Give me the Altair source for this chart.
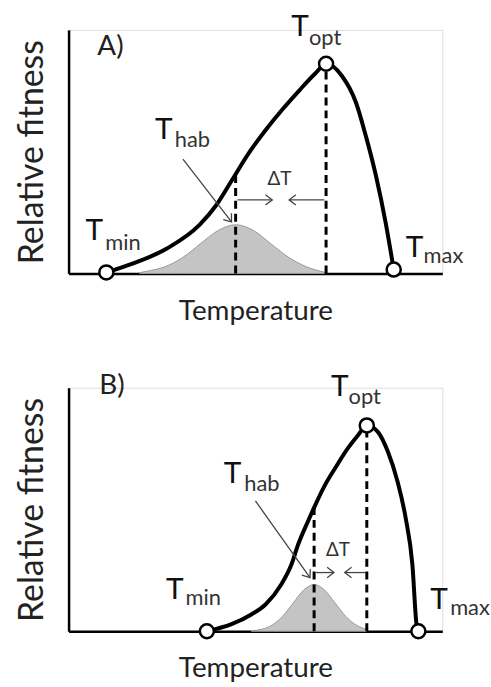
import altair as alt
import pandas as pd

# ---------------- Panel A values (temperature 0-100, relative fitness 0-100) ----------------
a_curve_x = [10.1, 17.3, 26.3, 35.1, 39.6, 43.9, 48.4, 52.9, 57.2, 61.7, 66.2, 68.9, 73.1, 76.9, 79.5, 82.2, 84.8, 87.0]
a_curve_y = [0.4, 4.1, 10.2, 20.0, 28.2, 38.8, 49.8, 59.2, 67.3, 75.1, 82.4, 86.1, 81.2, 70.2, 56.7, 40.4, 21.2, 1.6]
a_hab_x = [19.0, 21.0, 25.7, 30.5, 35.2, 40.0, 44.7, 49.5, 54.2, 59.0, 63.7, 68.5]
a_hab_y = [0.3, 0.9, 2.7, 6.5, 12.1, 17.6, 20.0, 17.6, 12.1, 6.5, 2.7, 0.5]
a_dash_x = [44.7, 68.9]
a_dash_top = [40.4, 86.1]
a_pts_x = [10.1, 68.9, 87.0]
a_pts_y = [0.4, 86.1, 1.6]
a_T_x = [4.5, 23.1, 59.6, 90.2]
a_T_y = [13.9, 55.1, 97.6, 6.9]
a_sub_x = [9.8, 28.4, 64.3, 95.0]
a_sub_y = [9.8, 51.8, 93.9, 4.1]
a_seg_x = [45.2, 68.4, 30.6]
a_seg_y = [30.2, 30.2, 46.9]
a_seg_x2 = [54.5, 59.0, 43.6]
a_seg_y2 = [30.2, 30.2, 21.2]
a_head_angle = [0, 180, 52]
a_dT = [56.4, 36.3]
a_letter = [7.7, 89.8]

# ---------------- Panel B values ----------------
b_curve_x = [37.0, 43.6, 48.9, 52.7, 56.9, 59.6, 61.4, 64.1, 66.0, 68.6, 71.3, 74.7, 77.4, 79.8, 82.7, 85.4, 88.0, 90.2, 92.0, 93.1, 93.6]
b_curve_y = [0.0, 2.9, 6.9, 11.0, 19.2, 27.3, 35.5, 45.3, 51.8, 60.0, 66.9, 75.1, 80.4, 84.5, 82.0, 73.9, 61.6, 46.5, 27.3, 2.9, 0.0]
b_hab_x = [48.9, 51.7, 54.5, 57.3, 60.1, 62.9, 65.7, 68.5, 71.3, 74.1, 76.9, 79.7]
b_hab_y = [0.2, 0.8, 2.6, 6.2, 11.6, 16.9, 19.2, 16.9, 11.6, 6.2, 2.6, 0.8]
b_dash_x = [65.7, 79.8]
b_dash_top = [50.6, 84.5]
b_pts_x = [37.0, 79.8, 93.6]
b_pts_y = [0.0, 84.5, 0.0]
b_T_x = [26.1, 41.5, 70.2, 96.8]
b_T_y = [13.1, 60.8, 96.7, 9.0]
b_sub_x = [31.3, 47.0, 74.9, 102.1]
b_sub_y = [10.6, 57.6, 93.5, 6.5]
b_seg_x = [66.2, 79.5, 50.0]
b_seg_y = [24.1, 24.1, 53.5]
b_seg_x2 = [71.0, 73.9, 64.6]
b_seg_y2 = [24.1, 24.1, 22.0]
b_head_angle = [0, 180, 54.5]
b_dT = [72.1, 31.0]
b_letter = [8.2, 97.6]

subs = ["min", "hab", "opt", "max"]
panel_letters = ["A)", "B)"]
x_title = "Temperature"
y_title = "Relative fitness"

FONT = "Lato"
W, H = 376, 245

xs = alt.Scale(domain=[0, 100], nice=False, zero=False)
ys = alt.Scale(domain=[0, 100], nice=False, zero=False)
x_axis = alt.Axis(title=x_title, ticks=False, labels=False, grid=False, domainColor="black",
                  domainWidth=2.5, titleFont=FONT, titleFontSize=28, titleFontWeight="normal",
                  titleColor="#222", titlePadding=24)
y_axis = alt.Axis(title=y_title, ticks=False, labels=False, grid=False, domainColor="black",
                  domainWidth=2.5, titleFont=FONT, titleFontSize=34, titleFontWeight="normal",
                  titleColor="#222", titlePadding=19)


def X(f):
    return alt.X(f, type="quantitative", scale=xs, axis=x_axis)


def Y(f):
    return alt.Y(f, type="quantitative", scale=ys, axis=y_axis)


def panel(cx, cy, hx, hy, dx, dtop, px, py, tx, ty, sx, sy, gx, gy, gx2, gy2, hang, dT, letter, lab):
    curve = pd.DataFrame({"x": cx, "y": cy})
    hab = pd.DataFrame({"x": hx, "y": hy})
    dash = pd.DataFrame({"x": dx, "y": [0] * len(dx), "y2": dtop})
    pts = pd.DataFrame({"x": px, "y": py})
    tl = pd.DataFrame({"x": tx, "y": ty, "t": ["T"] * len(tx)})
    sl = pd.DataFrame({"x": sx, "y": sy, "t": subs})
    seg = pd.DataFrame({"x": gx, "y": gy, "x2": gx2, "y2": gy2, "a": hang})
    dtd = pd.DataFrame({"x": [dT[0]], "y": [dT[1]], "t": ["ΔT"]})
    lt = pd.DataFrame({"x": [letter[0]], "y": [letter[1]], "t": [lab]})

    area = alt.Chart(hab).mark_area(interpolate="monotone", fill="#c4c4c4", stroke="#999999",
                                    strokeWidth=1).encode(x=X("x"), y=Y("y"))
    rules = alt.Chart(dash).mark_rule(color="black", strokeWidth=3, strokeDash=[8, 5]).encode(
        x=X("x"), y=Y("y"), y2="y2")
    line = alt.Chart(curve).mark_line(interpolate="monotone", color="black", strokeWidth=4).encode(
        x=X("x"), y=Y("y"))
    arrows = alt.Chart(seg).mark_rule(color="#444", strokeWidth=1.3).encode(
        x=X("x"), y=Y("y"), x2="x2", y2="y2")
    heads = alt.Chart(seg).mark_point(shape="M -1.3 -1 L 0 0 L -1.3 1", filled=False, color="#444",
                                      strokeWidth=1.3, size=110, opacity=1).encode(
        x=X("x2"), y=Y("y2"), angle=alt.Angle("a:Q", scale=None))
    circles = alt.Chart(pts).mark_point(shape="circle", filled=True, fill="white", stroke="black",
                                        strokeWidth=2.5, size=200, opacity=1).encode(x=X("x"), y=Y("y"))
    tT = alt.Chart(tl).mark_text(font=FONT, fontSize=30, color="#111", align="left",
                                 baseline="alphabetic").encode(x=X("x"), y=Y("y"), text="t:N")
    tS = alt.Chart(sl).mark_text(font=FONT, fontSize=22, color="#333", align="left",
                                 baseline="alphabetic").encode(x=X("x"), y=Y("y"), text="t:N")
    tD = alt.Chart(dtd).mark_text(font=FONT, fontSize=19, color="#333", align="center",
                                  baseline="alphabetic").encode(x=X("x"), y=Y("y"), text="t:N")
    tL = alt.Chart(lt).mark_text(font=FONT, fontSize=28, color="#222", align="left",
                                 baseline="alphabetic").encode(x=X("x"), y=Y("y"), text="t:N")
    return alt.layer(area, rules, line, arrows, heads, circles, tT, tS, tD, tL).properties(
        width=W, height=H)


pa = panel(a_curve_x, a_curve_y, a_hab_x, a_hab_y, a_dash_x, a_dash_top, a_pts_x, a_pts_y,
           a_T_x, a_T_y, a_sub_x, a_sub_y, a_seg_x, a_seg_y, a_seg_x2, a_seg_y2, a_head_angle,
           a_dT, a_letter, panel_letters[0])
pb = panel(b_curve_x, b_curve_y, b_hab_x, b_hab_y, b_dash_x, b_dash_top, b_pts_x, b_pts_y,
           b_T_x, b_T_y, b_sub_x, b_sub_y, b_seg_x, b_seg_y, b_seg_x2, b_seg_y2, b_head_angle,
           b_dT, b_letter, panel_letters[1])

chart = alt.vconcat(pa, pb, spacing=45).properties(
    padding={"left": 15, "top": 9, "right": 0, "bottom": 0}
).configure_view(stroke=None).configure(background="white")

chart.save("out.html", embed_options={"renderer": "svg", "actions": False})
